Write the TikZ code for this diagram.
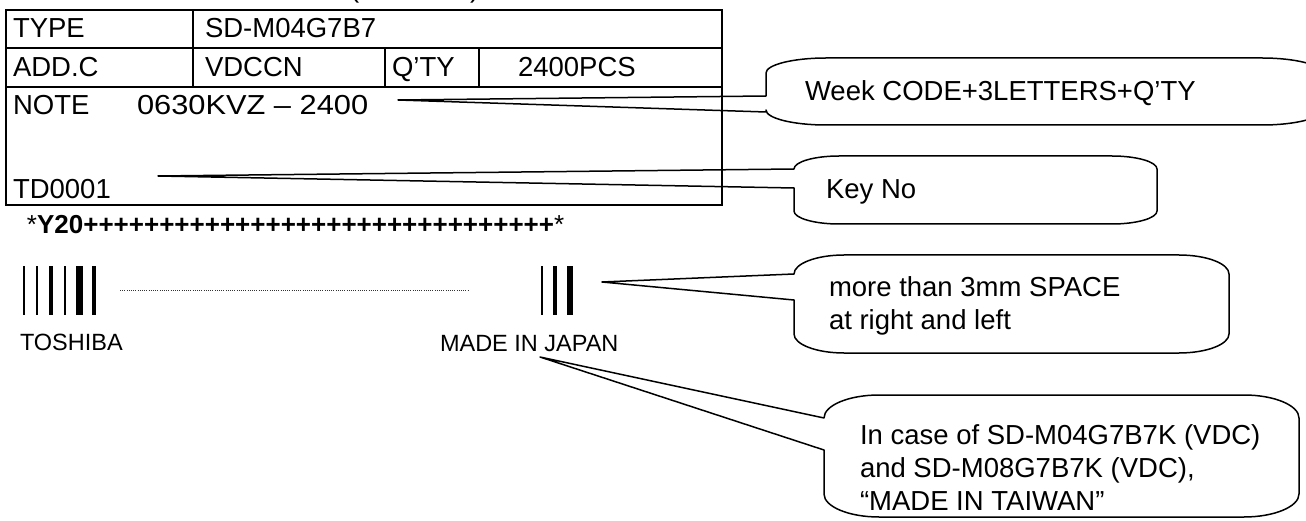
\documentclass[tikz,border=0pt]{standalone}
\usepackage{fontspec}
\setmainfont{Liberation Sans}
\usetikzlibrary{calc}
\newcommand{\mycallout}[9]{%
 \draw[co] (#1,#7) -- (#9) -- (#1,#8) -- (#1,{#4-#6})
  .. controls (#1,{#4-0.45*#6}) and ({#1+0.45*#5},#4) .. ({#1+#5},#4)
  -- ({#3-#5},#4)
  .. controls ({#3-0.45*#5},#4) and (#3,{#4-0.45*#6}) .. (#3,{#4-#6})
  -- (#3,{#2+#6})
  .. controls (#3,{#2+0.45*#6}) and ({#3-0.45*#5},#2) .. ({#3-#5},#2)
  -- ({#1+#5},#2)
  .. controls ({#1+0.45*#5},#2) and (#1,{#2+0.45*#6}) .. (#1,{#2+#6})
  -- cycle;}
\begin{document}
\begin{tikzpicture}[x=1pt,y=-1pt,
  every node/.style={inner sep=0pt,outer sep=0pt},
  lbl/.style={anchor=base west,font=\fontsize{27.5}{33}\selectfont},
  small/.style={anchor=base west,font=\fontsize{23.5}{28}\selectfont},
  frame/.style={line width=1.6pt},
  co/.style={line width=1.5pt,line join=round},
  dots/.style={line width=0.8pt,dash pattern=on 0.9pt off 1.3pt,black!80}]
\useasboundingbox (0,0) rectangle (1306,521);
\clip (0,0) rectangle (1306,521);
% fragments of a line above
\node[lbl] (pl) at (350,-2) {(};
\node[lbl] (pr) at (470,-2) {)};
% table
\draw[frame] (6,10) rectangle (722,205);
\draw[frame] (6,48) -- (722,48);
\draw[frame] (6,87) -- (722,87);
\draw[frame] (193,10) -- (193,87);
\draw[frame] (385,48) -- (385,87);
\draw[frame] (479,48) -- (479,87);
\node[lbl] (type) at (13,38) {TYPE};
\node[lbl] (typev) at (205,38) {SD-M04G7B7};
\node[lbl] (addc) at (13,77) {ADD.C};
\node[lbl] (addcv) at (205,77) {VDCCN};
\node[lbl] (qty) at (392,77) {Q’TY};
\node[lbl] (qtyv) at (518,77) {2400PCS};
\node[lbl] (note) at (13,115) {NOTE};
\node[lbl] (notev) at (137,115) {\scalebox{1.12}[1]{0630KVZ – 2400}};
\node[lbl] (td) at (13,199) {TD0001};
% barcode line
\node[anchor=base west,font=\fontsize{26}{30}\selectfont] (code) at (27,234)
  {*\textbf{Y20+++++++++++++++++++++++++++++++}*};
% bars
\fill (22.5,266) rectangle (24.5,315);
\fill (36,266) rectangle (38,315);
\fill (49.3,266) rectangle (53.3,315);
\fill (64,266) rectangle (66,315);
\fill (76.3,266) rectangle (82.7,315);
\fill (91.7,266) rectangle (95.7,315);
\draw[dots] (120,290) -- (469,290);
\fill (540.6,266) rectangle (542.8,315);
\fill (553.3,266) rectangle (557.3,315);
\fill (566.7,266) rectangle (572.7,315);
\node[small] (tosh) at (20,350) {TOSHIBA};
\node[small] (mij) at (440,351) {MADE IN JAPAN};
% callouts
\coordinate (a1) at (398,100);
\coordinate (a2) at (158,176);
\coordinate (a3) at (602,282);
\coordinate (a4) at (540,357);
\mycallout{766}{58}{1322}{125}{60}{15}{96}{112}{a1}
\node[lbl] (c1) at (805,101) {Week CODE+3LETTERS+Q’TY};
\mycallout{794}{156}{1157}{224}{45}{13}{169}{188}{a2}
\node[lbl] (c2) at (826,199) {Key No};
\mycallout{794}{255}{1229}{353}{50}{19}{274}{300}{a3}
\node[lbl] (c3a) at (829,296) {more than 3mm SPACE};
\node[lbl] (c3b) at (829,329) {at right and left};
\mycallout{824}{395}{1299}{517}{55}{23}{418}{450}{a4}
\node[lbl] (c4a) at (860,444) {In case of SD-M04G7B7K (VDC)};
\node[lbl] (c4b) at (860,477) {and SD-M08G7B7K (VDC),};
\node[lbl] (c4c) at (860,510) {“MADE IN TAIWAN”};
\end{tikzpicture}
\end{document}
